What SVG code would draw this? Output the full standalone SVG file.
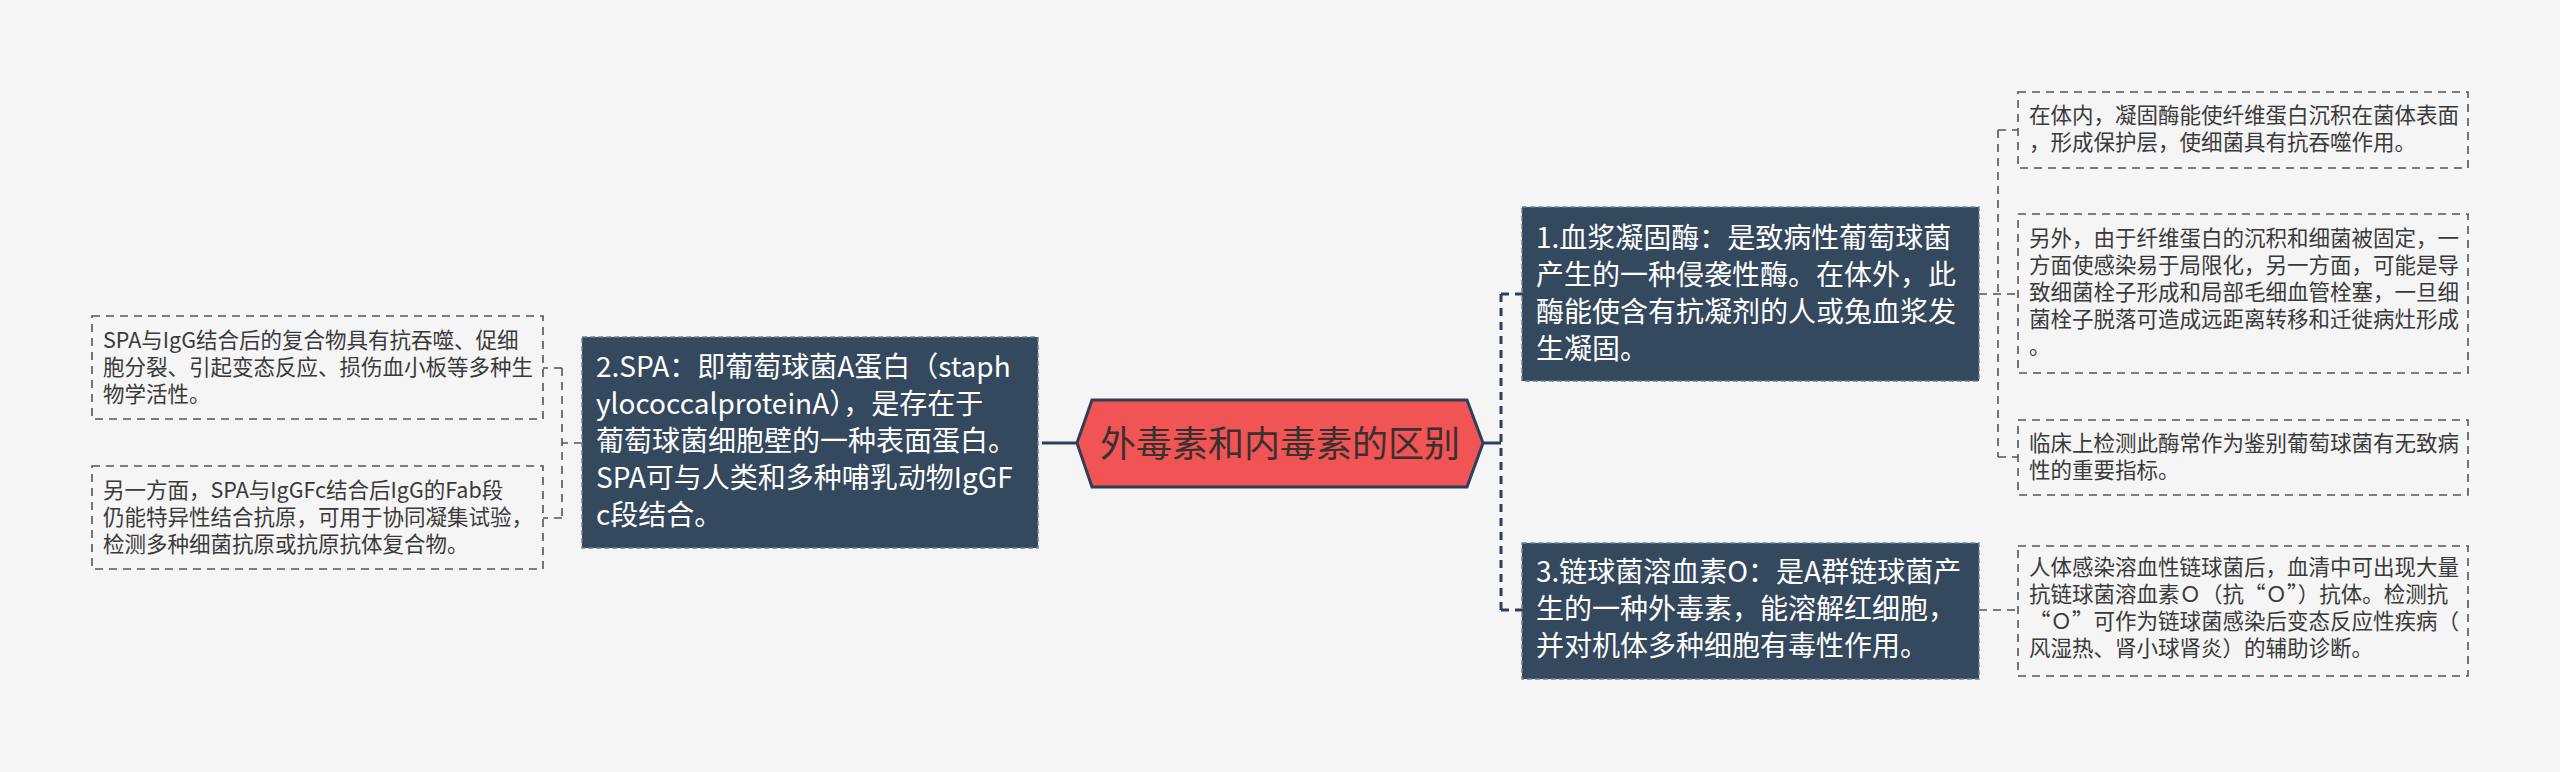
<svg xmlns="http://www.w3.org/2000/svg" width="2560" height="772" viewBox="0 0 2560 772">
<style>
text{font-family:"Noto Sans CJK SC","Noto Sans",sans-serif;}
.fw{font-feature-settings:"fwid" 1;}
.dark rect{fill:#34485E;stroke:#6E7F91;stroke-width:1.5;stroke-dasharray:5 3;}
.dark text{fill:#FFFFFF;font-size:28px;}
.leaf rect{fill:none;stroke:#555555;stroke-width:1.6;stroke-dasharray:8 6;}
.leaf text{fill:#3A3A3A;font-size:21.5px;}
.main{fill:none;stroke:#2E4057;stroke-width:3;}
.maind{fill:none;stroke:#2E4057;stroke-width:3;stroke-dasharray:8 6;}
.thin{fill:none;stroke:#555555;stroke-width:1.6;stroke-dasharray:8 6;}
</style>
<rect x="0" y="0" width="2560" height="772" fill="#F5F5F5"/>
<g id="connectors">
  <path class="main" d="M1077 443 H1050"/>
  <path class="maind" d="M1050 443 H1038"/>
  <path class="main" d="M1483 443 H1501"/>
  <path class="maind" d="M1501 294 V610"/>
  <path class="maind" d="M1501 294 H1522"/>
  <path class="maind" d="M1501 610 H1522"/>
  <path class="thin" d="M582 443 H562"/>
  <path class="thin" d="M562 368 V518"/>
  <path class="thin" d="M562 368 H543"/>
  <path class="thin" d="M562 518 H543"/>
  <path class="thin" d="M1979 294 H2018"/>
  <path class="thin" d="M1998 130 V457"/>
  <path class="thin" d="M1998 130 H2018"/>
  <path class="thin" d="M1998 457 H2018"/>
  <path class="thin" d="M1979 610 H2018"/>
</g>
<g id="root">
  <polygon points="1077,443 1092,400 1467,400 1483,443 1467,487 1092,487" fill="#F05454" stroke="#2E4057" stroke-width="3"/>
  <text x="1280" y="457" text-anchor="middle" font-size="36" fill="#3A3030">外毒素和内毒素的区别</text>
</g>
<g id="node2" class="dark">
  <rect x="582" y="337" width="456" height="211"/>
  <text x="596" y="377">2.SPA：即葡萄球菌A蛋白（staph</text>
  <text x="596" y="414">ylococcalproteinA），是存在于</text>
  <text x="596" y="451">葡萄球菌细胞壁的一种表面蛋白。</text>
  <text x="596" y="488">SPA可与人类和多种哺乳动物IgGF</text>
  <text x="596" y="525">c段结合。</text>
</g>
<g id="node1" class="dark">
  <rect x="1522" y="207" width="457" height="174"/>
  <text x="1536" y="248">1.血浆凝固酶：是致病性葡萄球菌</text>
  <text x="1536" y="285">产生的一种侵袭性酶。在体外，此</text>
  <text x="1536" y="322">酶能使含有抗凝剂的人或兔血浆发</text>
  <text x="1536" y="359">生凝固。</text>
</g>
<g id="node3" class="dark">
  <rect x="1522" y="543" width="457" height="136"/>
  <text x="1536" y="582">3.链球菌溶血素O：是A群链球菌产</text>
  <text x="1536" y="619">生的一种外毒素，能溶解红细胞，</text>
  <text x="1536" y="656">并对机体多种细胞有毒性作用。</text>
</g>
<g id="leafL1" class="leaf">
  <rect x="92" y="316" width="451" height="103"/>
  <text x="103" y="348">SPA与IgG结合后的复合物具有抗吞噬、促细</text>
  <text x="103" y="375">胞分裂、引起变态反应、损伤血小板等多种生</text>
  <text x="103" y="402">物学活性。</text>
</g>
<g id="leafL2" class="leaf">
  <rect x="92" y="466" width="451" height="103"/>
  <text x="103" y="498">另一方面，SPA与IgGFc结合后IgG的Fab段</text>
  <text x="103" y="525">仍能特异性结合抗原，可用于协同凝集试验，</text>
  <text x="103" y="552">检测多种细菌抗原或抗原抗体复合物。</text>
</g>
<g id="leafR1" class="leaf">
  <rect x="2018" y="92" width="450" height="76"/>
  <text x="2029" y="123">在体内，凝固酶能使纤维蛋白沉积在菌体表面</text>
  <text x="2029" y="150">，形成保护层，使细菌具有抗吞噬作用。</text>
</g>
<g id="leafR2" class="leaf">
  <rect x="2018" y="214" width="450" height="159"/>
  <text x="2029" y="246">另外，由于纤维蛋白的沉积和细菌被固定，一</text>
  <text x="2029" y="273">方面使感染易于局限化，另一方面，可能是导</text>
  <text x="2029" y="300">致细菌栓子形成和局部毛细血管栓塞，一旦细</text>
  <text x="2029" y="327">菌栓子脱落可造成远距离转移和迁徙病灶形成</text>
  <text x="2029" y="354">。</text>
</g>
<g id="leafR3" class="leaf">
  <rect x="2018" y="420" width="450" height="75"/>
  <text x="2029" y="451">临床上检测此酶常作为鉴别葡萄球菌有无致病</text>
  <text x="2029" y="478">性的重要指标。</text>
</g>
<g id="leafR4" class="leaf">
  <rect x="2018" y="546" width="450" height="130"/>
  <text x="2029" y="575">人体感染溶血性链球菌后，血清中可出现大量</text>
  <text x="2029" y="602" class="fw">抗链球菌溶血素O（抗“O”）抗体。检测抗</text>
  <text x="2029" y="629" class="fw">“O”可作为链球菌感染后变态反应性疾病（</text>
  <text x="2029" y="656">风湿热、肾小球肾炎）的辅助诊断。</text>
</g>
</svg>
